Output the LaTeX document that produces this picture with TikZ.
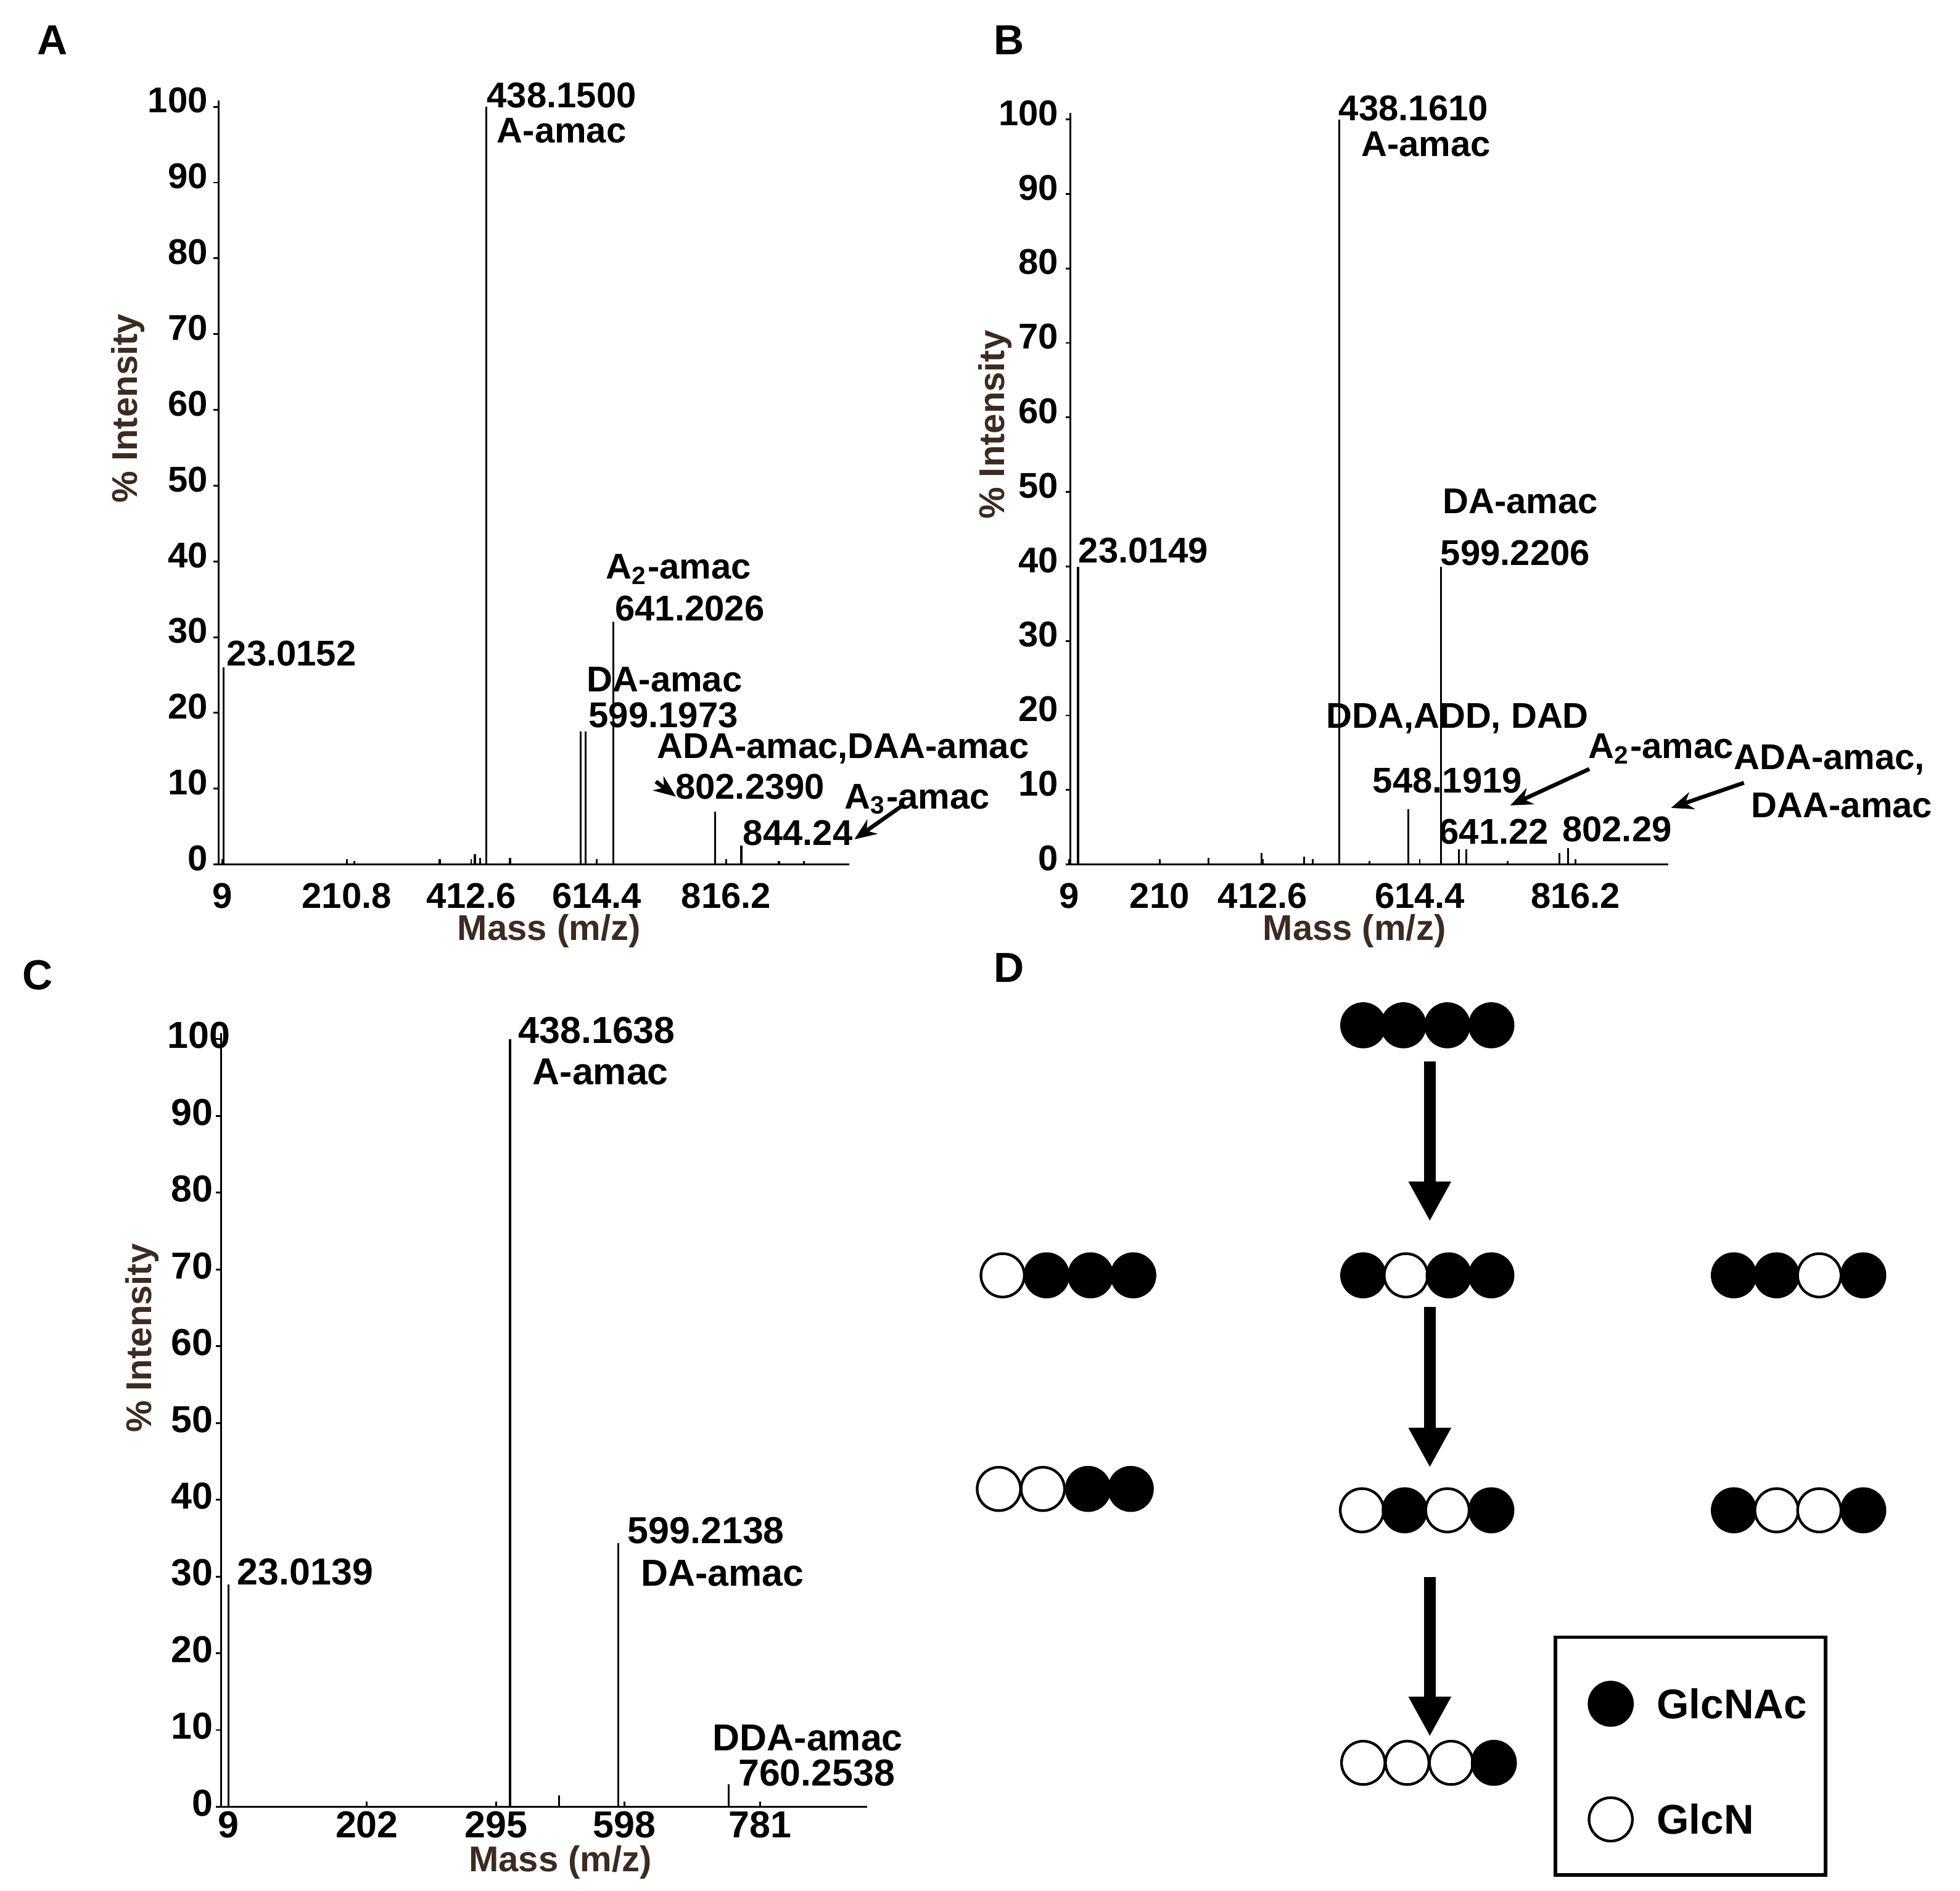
\documentclass[tikz,border=0pt]{standalone}
\usepackage{fontspec}
\setmainfont{Liberation Sans}
\usetikzlibrary{arrows.meta}
\begin{document}
\begin{tikzpicture}[x=0.01cm,y=-0.01cm,
  txt/.style={font=\fontsize{8.1}{9}\selectfont\bfseries,inner sep=0pt},
  txtc/.style={font=\fontsize{8.5}{9}\selectfont\bfseries,inner sep=0pt},
  ax/.style={font=\fontsize{8.1}{9}\selectfont\bfseries\color{axbrown},inner sep=0pt},
  lett/.style={font=\fontsize{9.5}{10}\selectfont\bfseries,inner sep=0pt},
  pk/.style={line width=0.45pt},
  ar/.style={-{Stealth[length=5pt,width=4pt]},line width=0.9pt},
  bigar/.style={-{Triangle[length=9pt,width=9pt]},line width=2.6pt},
  fc/.style={circle,draw,line width=0.6pt,minimum size=0.345cm,inner sep=0pt,fill=black},
  oc/.style={circle,draw,line width=0.6pt,minimum size=0.345cm,inner sep=0pt,fill=white}]
\definecolor{axbrown}{HTML}{3B2B22}
\useasboundingbox (0,0) rectangle (1560,1505);
% ===== panel letters
\node[lett] (LA) at (42,32) {A};
\node[lett] (LB) at (803,32) {B};
\node[lett] (LC) at (30,776) {C};
\node[lett] (LD) at (803,770) {D};
% ===== Panel A
\draw[line width=0.5pt] (174,80) -- (174,688) -- (676,688);
\foreach \k/\t in {0/0,1/10,2/20,3/30,4/40,5/50,6/60,7/70,8/80,9/90,10/100}{
  \node[txt,anchor=east] (ya\k) at (166,{683-\k*60.3}) {\t};
  \draw[line width=0.4pt] (174,{688-\k*60.3}) -- (170,{688-\k*60.3});}
\foreach \x/\t [count=\i] in {177/9,276/210.8,375/412.6,475/614.4,578/816.2}{
  \node[txt] (xa\i) at (\x,713) {\t};
  \draw[line width=0.4pt] (\x,688) -- (\x,684);}
\node[ax,rotate=90] (ia) at (102,325) {\% Intensity};
\node[ax] (ma) at (437,741) {Mass (m/z)};
\foreach \x/\y in {178/531,387/85,462/582,466/582,488/495,569/646,590/673,378/680,382/683,406/683,282/685,350/684,620/685,640/685}
  \draw[pk] (\x,688) -- (\x,\y);
\node[txt] (a1) at (232,520) {23.0152};
\node[txt] (a2) at (447,76) {438.1500};
\node[txt] (a3) at (447,104) {A-amac};
\node[txt] (a4) at (540,453) {A\textsubscript{2}-amac};
\node[txt] (a5) at (549,484) {641.2026};
\node[txt] (a6) at (529,541) {DA-amac};
\node[txt] (a7) at (528,569) {599.1973};
\node[txt] (a8) at (671,596) {ADA-amac,DAA-amac};
\node[txt] (a9) at (597,626) {802.2390};
\node[txt] (a10) at (730,636) {A\textsubscript{3}-amac};
\node[txt] (a11) at (635,663) {844.24};
\coordinate (a8t) at (538,634);
\coordinate (a10t) at (680,668);
\draw[ar] (522,622) -- (a8t);
\draw[ar] (717,642) -- (a10t);
% ===== Panel B
\draw[line width=0.5pt] (852,90) -- (852,688) -- (1328,688);
\foreach \k/\t in {0/0,1/10,2/20,3/30,4/40,5/50,6/60,7/70,8/80,9/90,10/100}{
  \node[txt,anchor=east] (yb\k) at (843,{683-\k*59.3}) {\t};
  \draw[line width=0.4pt] (852,{688-\k*59.3}) -- (848,{688-\k*59.3});}
\foreach \x/\t [count=\i] in {851/9,923/210,1005/412.6,1130/614.4,1254/816.2}{
  \node[txt] (xb\i) at (\x,713) {\t};
  \draw[line width=0.4pt] (\x,688) -- (\x,684);}
\node[ax,rotate=90] (ib) at (792,338) {\% Intensity};
\node[ax] (mb) at (1078,741) {Mass (m/z)};
\foreach \x/\y in {858/451,1066/95,1121/644,1147/451,1161/676,1167/676,1241/679,1248/675,1004/679,962/683,1038/682,1045/684,1090/685,1200/685}
  \draw[pk] (\x,688) -- (\x,\y);
\node[txt] (b1) at (910,438) {23.0149};
\node[txt] (b2) at (1125,86) {438.1610};
\node[txt] (b3) at (1135,115) {A-amac};
\node[txt] (b4) at (1210,399) {DA-amac};
\node[txt] (b5) at (1206,440) {599.2206};
\node[txt] (b6) at (1160,572) {DDA,ADD, DAD};
\node[txt] (b7) at (1152,621) {548.1919};
\node[txt] (b8) at (1322,596) {A\textsubscript{2}-amac};
\node[txt] (b9) at (1189,662) {641.22};
\node[txt] (b10) at (1287,660) {802.29};
\node[txt] (b11) at (1456,605) {ADA-amac,};
\node[txt] (b12) at (1466,641) {DAA-amac};
\coordinate (b8t) at (1202,641);
\coordinate (b11t) at (1330,643);
\draw[ar] (1265,612) -- (b8t);
\draw[ar] (1388,623) -- (b11t);
% ===== Panel C
\draw[line width=0.5pt] (176,822) -- (176,1438) -- (690,1438);
\foreach \k/\t in {0/0,1/10,2/20,3/30,4/40,5/50,6/60,7/70,8/80,9/90,10/100}{
  \node[txtc,anchor=east] (yc\k) at ({\k==10 ? 184 : 170},{1435-\k*61.1}) {\t};
  \draw[line width=0.4pt] (176,{1438-\k*61.1}) -- (172,{1438-\k*61.1});}
\foreach \x/\t [count=\i] in {182/9,292/202,395/295,497/598,605/781}{
  \node[txtc] (xc\i) at (\x,1452) {\t};
  \draw[line width=0.4pt] (\x,1438) -- (\x,1434);}
\node[ax,rotate=90] (ic) at (113,1065) {\% Intensity};
\node[ax] (mc) at (446,1482) {Mass (m/z)};
\foreach \x/\y in {182/1261,406/827,445/1429,492/1228,580/1420}
  \draw[pk] (\x,1438) -- (\x,\y);
\node[txtc] (c1) at (243,1251) {23.0139};
\node[txtc] (c2) at (475,820) {438.1638};
\node[txtc] (c3) at (478,853) {A-amac};
\node[txtc] (c4) at (562,1218) {599.2138};
\node[txtc] (c5) at (575,1252) {DA-amac};
\node[txtc] (c6) at (643,1383) {DDA-amac};
\node[txtc] (c7) at (650,1411) {760.2538};
% ===== Panel D
\foreach \x [count=\i] in {1085,1117,1152,1187} \node[fc] (r1c\i) at (\x,816) {};
\foreach \x/\s [count=\i] in {798/oc,833/fc,868/fc,902/fc} \node[\s] (r2a\i) at (\x,1015) {};
\foreach \x/\s [count=\i] in {1085/fc,1119/oc,1153/fc,1187/fc} \node[\s] (r2b\i) at (\x,1015) {};
\foreach \x/\s [count=\i] in {1380/fc,1414/fc,1448/oc,1483/fc} \node[\s] (r2c\i) at (\x,1015) {};
\foreach \x/\s [count=\i] in {795/oc,830/oc,866/fc,900/fc} \node[\s] (r3a\i) at (\x,1185) {};
\foreach \x/\s [count=\i] in {1084/oc,1118/fc,1152/oc,1187/fc} \node[\s] (r3b\i) at (\x,1202) {};
\foreach \x/\s [count=\i] in {1380/fc,1414/oc,1448/oc,1483/fc} \node[\s] (r3c\i) at (\x,1202) {};
\foreach \x/\s [count=\i] in {1085/oc,1120/oc,1155/oc,1189/fc} \node[\s] (r4\i) at (\x,1403) {};
\coordinate (s1) at (1138,845); \coordinate (e1) at (1138,972);
\coordinate (s2) at (1138,1040); \coordinate (e2) at (1138,1168);
\coordinate (s3) at (1138,1255); \coordinate (e3) at (1138,1382);
\draw[bigar] (s1) -- (e1);
\draw[bigar] (s2) -- (e2);
\draw[bigar] (s3) -- (e3);
\node[draw,line width=0.8pt,minimum width=2.15cm,minimum height=1.89cm,inner sep=0pt] (leg) at (1345.5,1397.5) {};
\node[fc] (lg1) at (1282,1356) {};
\node[oc] (lg2) at (1282,1448) {};
\node[font=\fontsize{9.4}{10}\selectfont\bfseries,anchor=west,inner sep=0pt] (lt1) at (1318,1356) {GlcNAc};
\node[font=\fontsize{9.4}{10}\selectfont\bfseries,anchor=west,inner sep=0pt] (lt2) at (1318,1448) {GlcN};
\end{tikzpicture}
\end{document}
